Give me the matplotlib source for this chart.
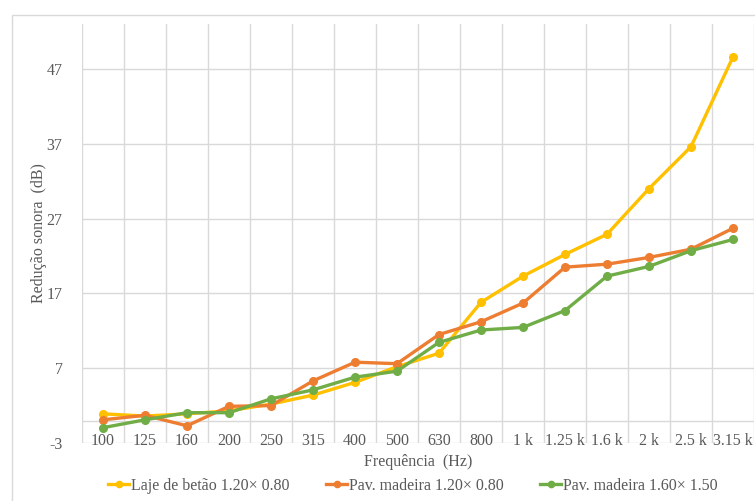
import matplotlib
matplotlib.use("Agg")
import matplotlib.pyplot as plt
from matplotlib.patches import Rectangle
from matplotlib.lines import Line2D

# Frequency bands (Hz) and sound reduction (dB) per configuration
bands = ["100", "125", "160", "200", "250", "315", "400", "500", "630",
         "800", "1 k", "1.25 k", "1.6 k", "2 k", "2.5 k", "3.15 k"]
laje_betao = [0.9, 0.6, 0.9, 1.3, 2.2, 3.4, 5.1, 7.2, 9.0,
              15.8, 19.3, 22.2, 24.9, 31.0, 36.6, 48.6]
pav_madeira_120 = [0.1, 0.7, -0.7, 1.9, 2.0, 5.3, 7.8, 7.6, 11.5,
                   13.2, 15.7, 20.5, 20.9, 21.8, 22.9, 25.7]
pav_madeira_160 = [-0.95, 0.1, 1.05, 1.05, 2.9, 4.1, 5.8, 6.6, 10.45,
                   12.1, 12.45, 14.7, 19.3, 20.6, 22.7, 24.2]
series_names = ["Laje de betão 1.20× 0.80",
                "Pav. madeira 1.20× 0.80",
                "Pav. madeira 1.60× 1.50"]
y_ticks = [-3, 7, 17, 27, 37, 47]

colors = ["#FFC000", "#ED7D31", "#70AD47"]
grid_c = "#D9D9D9"
text_c = "#595959"
font = "Liberation Serif"
fs = 11.5

W, H = 755, 501
fig = plt.figure(figsize=(W / 100, H / 100), dpi=100)

# chart area border
fig.patches.append(Rectangle((12 / W, -0.2), 1.2, (H - 15) / H + 0.2,
                             transform=fig.transFigure, fill=False,
                             edgecolor=grid_c, linewidth=1.0))

left, right, top, bottom = 82, 754, 24, 443
ax = fig.add_axes([left / W, 1 - bottom / H, (right - left) / W, (bottom - top) / H])

x = list(range(len(bands)))
ax.set_xlim(-0.5, len(bands) - 0.5)
ax.set_ylim(-3, 53)

for s in ax.spines.values():
    s.set_visible(False)

# grid
for yv in y_ticks:
    ax.axhline(yv, color=grid_c, lw=1.0, zorder=0)
ax.axhline(0, color=grid_c, lw=1.0, zorder=0)
for i in range(len(bands) + 1):
    ax.axvline(i - 0.5, color=grid_c, lw=1.0, zorder=0)

for vals, c in zip([laje_betao, pav_madeira_120, pav_madeira_160], colors):
    ax.plot(x, vals, color=c, lw=2.4, marker="o", markersize=5.5,
            solid_joinstyle="round", zorder=3)

ax.set_yticks(y_ticks)
ax.set_yticklabels([str(v) for v in y_ticks], fontfamily=font, fontsize=fs, color=text_c)
ax.set_xticks(x)
ax.set_xticklabels(bands, fontfamily=font, fontsize=fs, color=text_c)
ax.tick_params(axis="y", length=0, pad=14)
ax.tick_params(axis="x", length=0, pad=-7)

fig.text(418 / W, 1 - 462 / H, "Frequência  (Hz)", ha="center", va="center",
         fontfamily=font, fontsize=fs, color=text_c)
fig.text(39 / W, 1 - 233 / H, "Redução sonora  (dB)", ha="center", va="center",
         rotation=90, fontfamily=font, fontsize=fs, color=text_c)

handles = [Line2D([0], [0], color=c, lw=2.4, marker="o", markersize=4.5) for c in colors]
leg = fig.legend(handles, series_names, loc="center", ncol=3,
                 bbox_to_anchor=(413 / W, 1 - 486 / H), frameon=False,
                 prop={"family": font, "size": fs}, handlelength=1.3,
                 handletextpad=0.12, columnspacing=2.3, labelcolor=text_c)

fig.savefig("out.png", dpi=100)
